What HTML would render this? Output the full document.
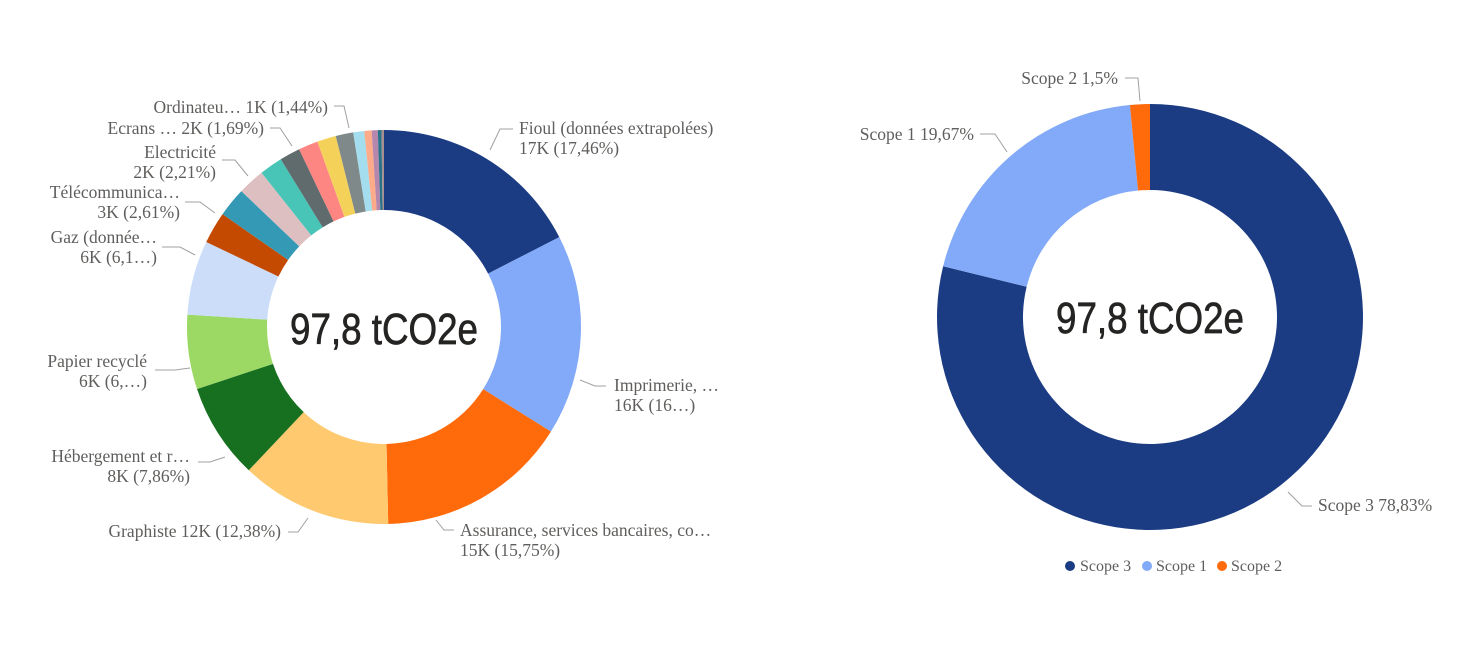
<!DOCTYPE html>
<html><head><meta charset="utf-8"><style>
body{margin:0;background:#fff;width:1480px;height:666px;overflow:hidden}
text{font-family:"Liberation Serif",serif;font-size:17.5px;fill:#605E5C}
.c{font-family:"Liberation Sans",sans-serif;font-size:44px;fill:#252423;stroke:#252423;stroke-width:0.7}
</style></head><body>
<svg id="s" width="1480" height="666" xmlns="http://www.w3.org/2000/svg">
<g id="g1"></g><g id="g2"></g>
<g fill="none" stroke="#A0A0A0" stroke-width="1">
<polyline points="513,129 500,129 490,150"/>
<polyline points="606,386 595,386 580,380"/>
<polyline points="454,530 444,530 436,520"/>
<polyline points="288,532 298,532 308,518"/>
<polyline points="198,462 210,462 225,457"/>
<polyline points="155,370 175,370 190,368"/>
<polyline points="162,247 180,247 195,255"/>
<polyline points="185,202 200,202 215,213"/>
<polyline points="222,160 235,160 248,176"/>
<polyline points="270,128 280,128 292,146"/>
<polyline points="334,106 344,106 349,128"/>
<polyline points="980,134 995,134 1007,152"/>
<polyline points="1125,78 1138,78 1140,101"/>
<polyline points="1312,506 1302,506 1288,492"/>
</g>
<text class="c" x="290" y="344" textLength="188" lengthAdjust="spacingAndGlyphs">97,8 tCO2e</text>
<text class="c" x="1056" y="333" textLength="188" lengthAdjust="spacingAndGlyphs">97,8 tCO2e</text>
<text x="519" y="134">Fioul (données extrapolées)</text>
<text x="519" y="154">17K (17,46%)</text>
<text x="614" y="391">Imprimerie, …</text>
<text x="614" y="411">16K (16…)</text>
<text x="460" y="536">Assurance, services bancaires, co…</text>
<text x="460" y="556">15K (15,75%)</text>
<text x="281" y="537" text-anchor="end">Graphiste 12K (12,38%)</text>
<text x="190" y="462" text-anchor="end">Hébergement et r…</text>
<text x="190" y="482" text-anchor="end">8K (7,86%)</text>
<text x="147" y="367" text-anchor="end">Papier recyclé</text>
<text x="147" y="387" text-anchor="end">6K (6,…)</text>
<text x="157" y="243" text-anchor="end">Gaz (donnée…</text>
<text x="157" y="263" text-anchor="end">6K (6,1…)</text>
<text x="180" y="198" text-anchor="end">Télécommunica…</text>
<text x="180" y="218" text-anchor="end">3K (2,61%)</text>
<text x="216" y="158" text-anchor="end">Electricité</text>
<text x="216" y="178" text-anchor="end">2K (2,21%)</text>
<text x="264" y="134" text-anchor="end">Ecrans … 2K (1,69%)</text>
<text x="328" y="113" text-anchor="end">Ordinateu… 1K (1,44%)</text>
<text x="974" y="140" text-anchor="end">Scope 1 19,67%</text>
<text x="1118" y="84" text-anchor="end">Scope 2 1,5%</text>
<text x="1318" y="511">Scope 3 78,83%</text>
<circle cx="1070" cy="566" r="5" fill="#1B3C83"/><text x="1080" y="571" style="font-size:16px">Scope 3</text>
<circle cx="1147" cy="566" r="5" fill="#82AAF8"/><text x="1156" y="571" style="font-size:16px">Scope 1</text>
<circle cx="1222" cy="566" r="5" fill="#FF6A0A"/><text x="1231" y="571" style="font-size:16px">Scope 2</text>
</svg>
<script>
function donut(g,cx,cy,R,r,data){
 var a=0,h='';
 data.forEach(function(d){
  var a0=a/100*2*Math.PI,a1=(a+d[0])/100*2*Math.PI;a+=d[0];
  var L=(a1-a0)>Math.PI?1:0;
  function p(rr,t){return (cx+rr*Math.sin(t)).toFixed(2)+','+(cy-rr*Math.cos(t)).toFixed(2);}
  h+='<path fill="'+d[1]+'" d="M'+p(R,a0)+' A'+R+','+R+' 0 '+L+' 1 '+p(R,a1)+' L'+p(r,a1)+' A'+r+','+r+' 0 '+L+' 0 '+p(r,a0)+'Z"/>';
 });
 document.getElementById(g).innerHTML=h;
}
donut('g1',384,327,197,117,[[17.46,'#1B3C83'],[16.45,'#82AAF8'],[15.75,'#FF6A0A'],[12.38,'#FFC970'],[7.86,'#177020'],[6.1,'#9CD964'],[6.1,'#CBDDF8'],[2.61,'#C44A02'],[2.4,'#3499B5'],[2.21,'#DEBFC1'],[1.9,'#49C5B8'],[1.69,'#5F6B6D'],[1.6,'#FD8582'],[1.55,'#F4D25A'],[1.44,'#7F898A'],[0.9,'#A4DDEE'],[0.6,'#FDAB89'],[0.5,'#B687AC'],[0.3,'#28738A'],[0.2,'#A78F8F']]);
donut('g2',1150,317,213,127,[[78.83,'#1B3C83'],[19.67,'#82AAF8'],[1.5,'#FF6A0A']]);
</script>
</body></html>
